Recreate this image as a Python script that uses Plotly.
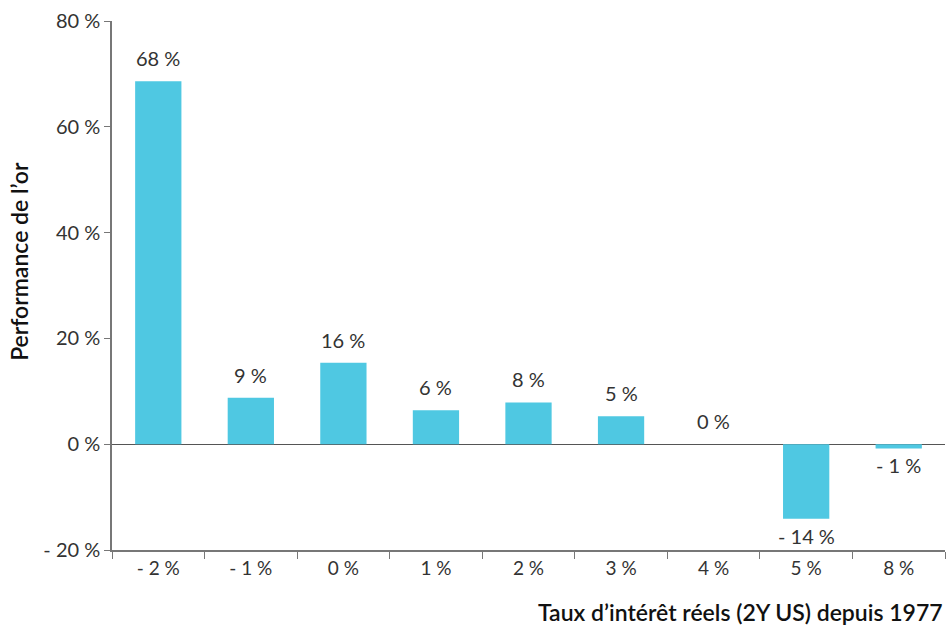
import plotly.graph_objects as go

categories = ["- 2 %", "- 1 %", "0 %", "1 %", "2 %", "3 %", "4 %", "5 %", "8 %"]
performance = [68.6, 8.8, 15.4, 6.4, 7.9, 5.3, 0.0, -14.1, -0.8]
bar_labels = ["68 %", "9 %", "16 %", "6 %", "8 %", "5 %", "0 %", "- 14 %", "- 1 %"]
y_ticks = [-20, 0, 20, 40, 60, 80]
y_tick_labels = ["- 20 %", "0 %", "20 %", "40 %", "60 %", "80 %"]

FONT = "Lato"
TXT = "#333333"

fig = go.Figure(go.Bar(
    x=categories, y=performance,
    marker=dict(color="#4FC8E2", line=dict(width=0)),
    hoverinfo="skip",
))

for cat, val, lab in zip(categories, performance, bar_labels):
    pos = val >= 0
    fig.add_annotation(
        x=cat, y=val, text=lab, showarrow=False,
        xref="x", yref="y",
        yanchor="bottom" if pos else "top",
        yshift=9 if pos else -3,
        font=dict(family=FONT, size=20, color=TXT),
    )

fig.update_layout(
    width=949, height=630,
    margin=dict(l=112, r=4, t=21, b=80, autoexpand=False),
    paper_bgcolor="white", plot_bgcolor="white",
    bargap=0.5, showlegend=False,
    font=dict(family=FONT, size=20, color=TXT),
)
fig.update_xaxes(
    automargin=False,
    showline=True, linecolor="#777777", linewidth=1.5,
    ticks="outside", tickson="boundaries", ticklen=7, tickcolor="#777777",
    tickfont=dict(family=FONT, size=19, color=TXT),
    showgrid=False,
)
fig.update_yaxes(
    automargin=False,
    range=[-20, 80], tickvals=y_ticks, ticktext=y_tick_labels,
    showline=True, linecolor="#777777", linewidth=1.5,
    ticks="outside", ticklen=6, tickcolor="#777777",
    tickfont=dict(family=FONT, size=20, color=TXT),
    showgrid=False, zeroline=True, zerolinecolor="#555555", zerolinewidth=1.2,
)
fig.add_annotation(
    text="Performance de l’or", textangle=-90,
    xref="paper", yref="paper", x=-0.112, y=0.546, xanchor="center", yanchor="middle",
    showarrow=False, font=dict(family=FONT, size=23, color="#111111", weight=600),
)
fig.add_annotation(
    text="Taux d’intérêt réels (2Y US) depuis 1977",
    xref="paper", yref="paper", x=1.0, y=-0.118, xanchor="right", yanchor="middle",
    showarrow=False, font=dict(family=FONT, size=23, color="#111111", weight=600),
)

fig.write_html("out.html", config={"displayModeBar": False},
               post_script="document.body.style.margin='0';")
